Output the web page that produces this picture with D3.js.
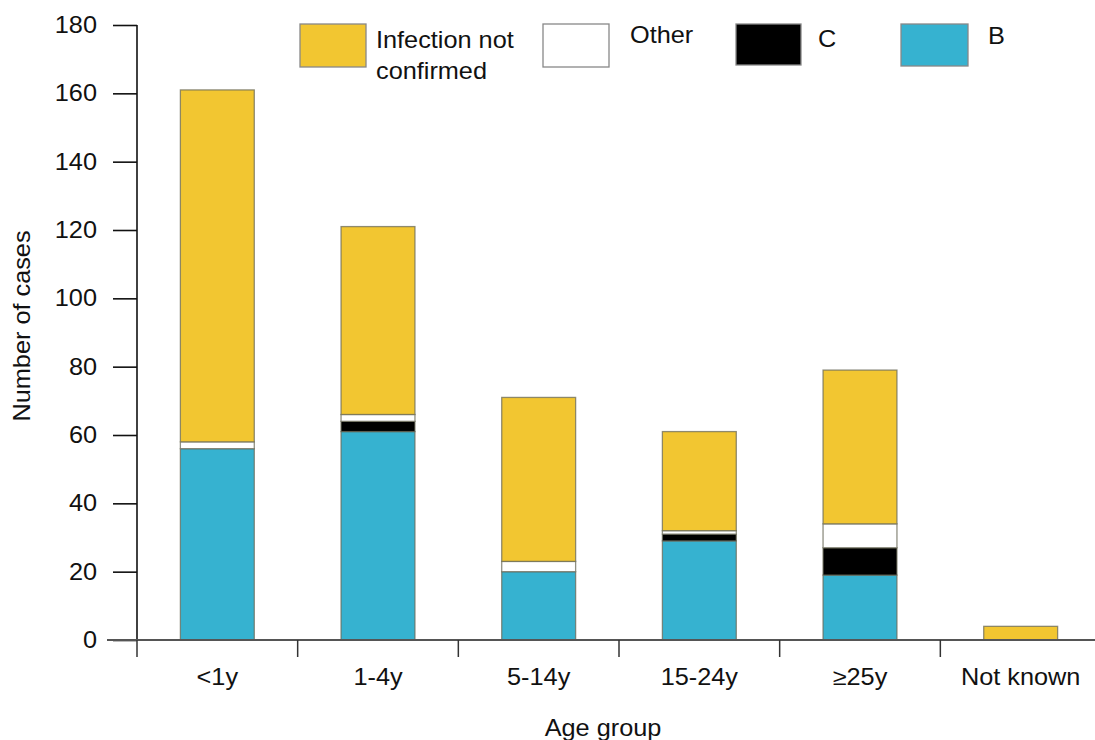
<!DOCTYPE html>
<html><head><meta charset="utf-8">
<script src="https://cdn.jsdelivr.net/npm/d3@7"></script>
<style>body{margin:0;background:#fff}svg{display:block}text{font-family:"Liberation Sans",Arial,sans-serif;fill:#111}</style>
</head><body><svg id="c" width="1095" height="740"></svg>
<script>
const categories = ["<1y","1-4y","5-14y","15-24y","\u226525y","Not known"];
const seriesB = [56, 61, 20, 29, 19, 0];
const seriesC = [0, 3, 0, 2, 8, 0];
const seriesOther = [2, 2, 3, 1, 7, 0];
const seriesNotConfirmed = [103, 55, 48, 29, 45, 4];
const yTicks = [0,20,40,60,80,100,120,140,160,180];
const seriesNames = ["B","C","Other","Infection not confirmed"];
const colors = {"B":"#36b2d0","C":"#000000","Other":"#ffffff","Infection not confirmed":"#f2c631"};

const rows = categories.map((c,i)=>({cat:c, "B":seriesB[i], "C":seriesC[i], "Other":seriesOther[i], "Infection not confirmed":seriesNotConfirmed[i]}));
const svg = d3.select("#c");
const FS = 23, SX = 1.1;
function label(parent, x, y, txt, anchor, rot){
  const g = parent.append("g").attr("transform", `translate(${x},${y})` + (rot?` rotate(${rot})`:"") + ` scale(${SX},1)`);
  g.append("text").attr("text-anchor", anchor||"start").style("font-size", FS+"px").text(txt);
  return g;
}
const x = d3.scaleBand().domain(categories).range([137, 1101]).paddingInner(0.54).paddingOuter(0.27);
const y = d3.scaleLinear().domain([0,180]).range([640, 25]);
const stack = d3.stack().keys(seriesNames)(rows);

// bars
stack.forEach(s=>{
  svg.append("g").selectAll("rect").data(s.filter(d=>d[1]>d[0])).join("rect")
    .attr("x", d=>x(d.data.cat)).attr("width", x.bandwidth())
    .attr("y", d=>y(d[1])).attr("height", d=>y(d[0])-y(d[1]))
    .attr("fill", colors[s.key]).attr("stroke", "#6b6b5a").attr("stroke-opacity",0.75).attr("stroke-width",1.3);
});

// y axis
const ya = svg.append("g").attr("transform","translate(137,0)")
  .call(d3.axisLeft(y).tickValues(yTicks).tickSize(24).tickPadding(0).tickFormat(()=>"") );
ya.select(".domain").attr("stroke","#111").attr("stroke-width",1.6).attr("d","M0,25V640");
ya.selectAll(".tick line").attr("stroke","#111").attr("stroke-width",1.6);
yTicks.forEach(t=>label(svg, 97, y(t)+8, String(t), "end"));

// x axis
const step = x.step();
svg.append("line").attr("x1",107).attr("x2",1095).attr("y1",640).attr("y2",640).attr("stroke","#555").attr("stroke-width",1.8);
categories.forEach(c=>{
  const bx = x(c) - (step - x.bandwidth())/2;
  svg.append("line").attr("x1",bx).attr("x2",bx).attr("y1",640).attr("y2",657).attr("stroke","#333").attr("stroke-width",1.5);
  label(svg, x(c)+x.bandwidth()/2, 685, c, "middle");
});

// axis titles
label(svg, 603, 736, "Age group", "middle");
label(svg, 30, 326, "Number of cases", "middle", -90);

// legend
const legendItems = [
  {key:"Infection not confirmed", sx:300, sw:66, sh:43, lines:["Infection not","confirmed"], tx:376, ty:48},
  {key:"Other", sx:543, sw:66, sh:43, lines:["Other"], tx:630, ty:43},
  {key:"C", sx:736, sw:65, sh:41, lines:["C"], tx:818, ty:47},
  {key:"B", sx:901, sw:67, sh:42, lines:["B"], tx:988, ty:44}
];
legendItems.forEach(it=>{
  svg.append("rect").attr("x",it.sx).attr("y",24).attr("width",it.sw).attr("height",it.sh)
    .attr("fill",colors[it.key]).attr("stroke","#888").attr("stroke-width",1.3);
  it.lines.forEach((l,i)=>label(svg, it.tx, it.ty + i*31, l, "start"));
});
</script></body></html>
